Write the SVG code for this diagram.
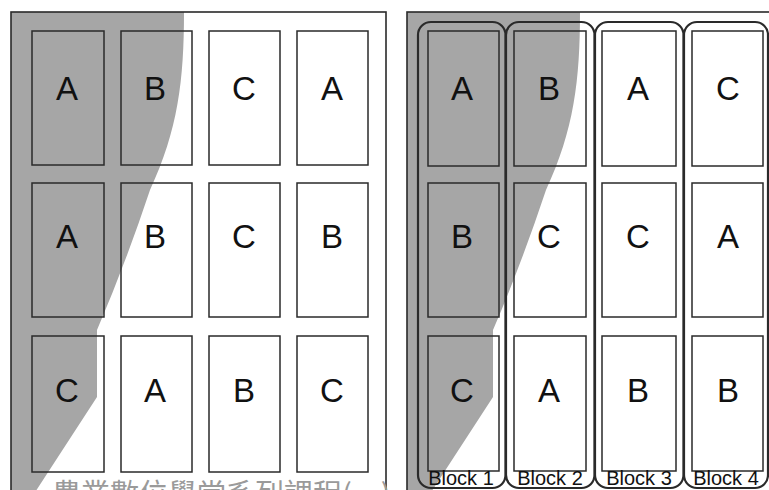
<svg xmlns="http://www.w3.org/2000/svg" width="769" height="490" viewBox="0 0 769 490">
<style>
.bg{fill:#ffffff}
.panel{fill:none;stroke:#2a2a2a;stroke-width:1.6}
.shade{fill:#a6a6a6}
.plot{fill:none;stroke:#2a2a2a;stroke-width:1.5}
.blk{fill:none;stroke:#2a2a2a;stroke-width:2.2}
.lt{font-family:"Liberation Sans",Arial,sans-serif;font-size:33px;fill:#111;text-anchor:middle}
.bl{font-family:"Liberation Sans",Arial,sans-serif;font-size:20px;fill:#111;text-anchor:middle}
.wm{font-family:"Noto Sans CJK TC","Noto Sans CJK SC",sans-serif;font-size:29px;fill:#9a9a9a}
</style>
<defs>
<clipPath id="cl"><rect x="11" y="12" width="375" height="490"/></clipPath>
<clipPath id="cr"><rect x="407" y="12" width="370" height="490"/></clipPath>
<path id="sh" d="M0 0 L184 0 L184 12 C184 80 178 130 150 190 Q125 265 97 330 L97 397 L30 500 L0 500 Z"/>
</defs>
<rect class="bg" x="0" y="0" width="769" height="490"/>

<g id="left-panel">
<g clip-path="url(#cl)"><use href="#sh" class="shade"/></g>
<rect class="panel" x="11" y="12" width="375" height="500"/>
<g id="L-r1c1"><rect class="plot" x="32" y="31" width="72" height="134"/><text class="lt" x="67" y="100">A</text></g>
<g id="L-r1c2"><rect class="plot" x="121" y="31" width="71" height="134"/><text class="lt" x="155" y="100">B</text></g>
<g id="L-r1c3"><rect class="plot" x="209" y="31" width="71" height="134"/><text class="lt" x="244" y="100">C</text></g>
<g id="L-r1c4"><rect class="plot" x="297" y="31" width="71" height="134"/><text class="lt" x="332" y="100">A</text></g>
<g id="L-r2c1"><rect class="plot" x="32" y="183" width="72" height="134"/><text class="lt" x="67" y="248">A</text></g>
<g id="L-r2c2"><rect class="plot" x="121" y="183" width="71" height="134"/><text class="lt" x="155" y="248">B</text></g>
<g id="L-r2c3"><rect class="plot" x="209" y="183" width="71" height="134"/><text class="lt" x="244" y="248">C</text></g>
<g id="L-r2c4"><rect class="plot" x="297" y="183" width="71" height="134"/><text class="lt" x="332" y="248">B</text></g>
<g id="L-r3c1"><rect class="plot" x="32" y="336" width="72" height="136"/><text class="lt" x="67" y="402">C</text></g>
<g id="L-r3c2"><rect class="plot" x="121" y="336" width="71" height="136"/><text class="lt" x="155" y="402">A</text></g>
<g id="L-r3c3"><rect class="plot" x="209" y="336" width="71" height="136"/><text class="lt" x="244" y="402">B</text></g>
<g id="L-r3c4"><rect class="plot" x="297" y="336" width="71" height="136"/><text class="lt" x="332" y="402">C</text></g>
</g>

<text class="wm" x="52" y="505">農業數位學堂系列課程(一)</text>

<g id="right-panel">
<rect class="bg" x="407" y="12" width="370" height="490"/>
<g clip-path="url(#cr)"><use href="#sh" class="shade" transform="translate(396 0)"/></g>
<rect class="panel" x="407" y="12" width="375" height="500"/>
<g id="R-r1c1"><rect class="plot" x="428" y="31" width="71" height="135"/><text class="lt" x="462" y="100">A</text></g>
<g id="R-r1c2"><rect class="plot" x="514" y="31" width="72" height="135"/><text class="lt" x="549" y="100">B</text></g>
<g id="R-r1c3"><rect class="plot" x="602" y="31" width="74" height="135"/><text class="lt" x="638" y="100">A</text></g>
<g id="R-r1c4"><rect class="plot" x="692" y="31" width="71" height="135"/><text class="lt" x="728" y="100">C</text></g>
<g id="R-r2c1"><rect class="plot" x="428" y="183" width="71" height="134"/><text class="lt" x="462" y="248">B</text></g>
<g id="R-r2c2"><rect class="plot" x="514" y="183" width="72" height="134"/><text class="lt" x="549" y="248">C</text></g>
<g id="R-r2c3"><rect class="plot" x="602" y="183" width="74" height="134"/><text class="lt" x="638" y="248">C</text></g>
<g id="R-r2c4"><rect class="plot" x="692" y="183" width="71" height="134"/><text class="lt" x="728" y="248">A</text></g>
<g id="R-r3c1"><rect class="plot" x="428" y="336" width="71" height="135"/><text class="lt" x="462" y="402">C</text></g>
<g id="R-r3c2"><rect class="plot" x="514" y="336" width="72" height="135"/><text class="lt" x="549" y="402">A</text></g>
<g id="R-r3c3"><rect class="plot" x="602" y="336" width="74" height="135"/><text class="lt" x="638" y="402">B</text></g>
<g id="R-r3c4"><rect class="plot" x="692" y="336" width="71" height="135"/><text class="lt" x="728" y="402">B</text></g>
<g id="block1"><rect class="blk" x="418" y="22" width="87.5" height="466" rx="13"/><text class="bl" x="461" y="485">Block 1</text></g>
<g id="block2"><rect class="blk" x="506" y="22" width="88.5" height="466" rx="13"/><text class="bl" x="550" y="485">Block 2</text></g>
<g id="block3"><rect class="blk" x="595" y="22" width="88.5" height="466" rx="13"/><text class="bl" x="639" y="485">Block 3</text></g>
<g id="block4"><rect class="blk" x="684" y="22" width="84" height="466" rx="13"/><text class="bl" x="726" y="485">Block 4</text></g>
</g>
</svg>
